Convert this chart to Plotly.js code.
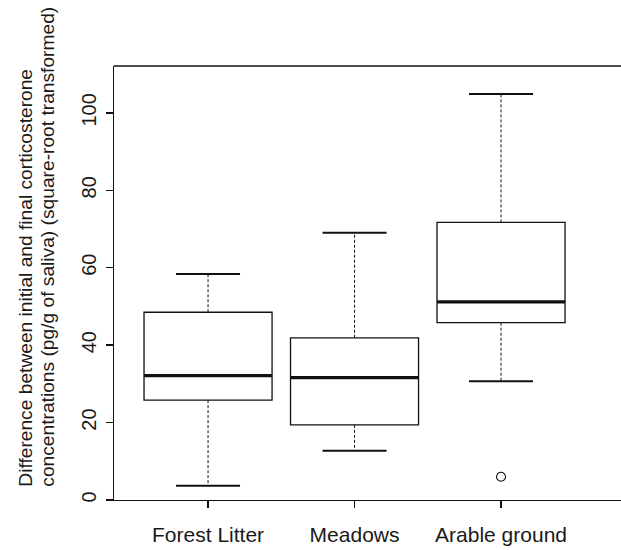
<!DOCTYPE html>
<html><head><meta charset="utf-8">
<script src="https://cdn.plot.ly/plotly-3.0.1.min.js"></script>
<style>html,body{margin:0;padding:0;overflow:hidden;background:#fff}</style>
</head><body><div id="chart" style="width:621px;height:550px"></div>
<script>
// ---- data ----
const categories = ["Forest Litter", "Meadows", "Arable ground"];
const lowerWhisker = [3.7, 12.7, 30.7];
const q1 = [25.8, 19.4, 45.8];
const median = [32.1, 31.6, 51.2];
const q3 = [48.5, 41.9, 71.7];
const upperWhisker = [58.4, 69.0, 104.9];
const outlierGroup = ["Arable ground"];
const outlierValue = [6.0];
const yTickValues = [0, 20, 40, 60, 80, 100];
const yTitleLines = [
  "Difference between initial and final corticosterone",
  "concentrations (pg/g of saliva) (square-root transformed)"
];

// ---- style constants ----
const FONT = "Liberation Sans, Arial, Helvetica, sans-serif";
const INK = "#111111";
const TEXT = "#1a1a1a";
const BOX_W = 0.874;
const CAP_W = 0.437;

const pos = categories.map((c, i) => i);

const boxTrace = {
  type: "box",
  x: pos,
  q1: q1, median: median, q3: q3,
  lowerfence: q1, upperfence: q3,
  width: BOX_W,
  whiskerwidth: 0,
  boxpoints: false,
  fillcolor: "#ffffff",
  line: {color: INK, width: 1.3},
  hoverinfo: "skip",
  showlegend: false
};

// dashed whiskers
const wx = [], wy = [];
pos.forEach((p, i) => {
  wx.push(p, p, null, p, p, null);
  wy.push(q3[i], upperWhisker[i], null, q1[i], lowerWhisker[i], null);
});
const whiskerTrace = {
  type: "scatter", mode: "lines", x: wx, y: wy,
  line: {color: INK, width: 1, dash: "3px,2px"},
  hoverinfo: "skip", showlegend: false
};

// whisker caps
const cx = [], cy = [];
pos.forEach((p, i) => {
  cx.push(p - CAP_W / 2, p + CAP_W / 2, null, p - CAP_W / 2, p + CAP_W / 2, null);
  cy.push(upperWhisker[i], upperWhisker[i], null, lowerWhisker[i], lowerWhisker[i], null);
});
const capTrace = {
  type: "scatter", mode: "lines", x: cx, y: cy,
  line: {color: INK, width: 2},
  hoverinfo: "skip", showlegend: false
};

// thick medians
const mx = [], my = [];
pos.forEach((p, i) => {
  mx.push(p - BOX_W / 2, p + BOX_W / 2, null);
  my.push(median[i], median[i], null);
});
const medianTrace = {
  type: "scatter", mode: "lines", x: mx, y: my,
  line: {color: INK, width: 3.2},
  hoverinfo: "skip", showlegend: false
};

const outlierTrace = {
  type: "scatter", mode: "markers",
  x: outlierGroup.map(g => categories.indexOf(g)),
  y: outlierValue,
  marker: {symbol: "circle-open", size: 9, color: INK, line: {width: 1.1}},
  hoverinfo: "skip", showlegend: false
};

// y-axis title as two rotated lines, both starting at the same bottom point (as in the reference)
const PLOT_L = 114, PLOT_W = 507;
const titleX = [26, 48];          // pixel centres of the two lines
const titleAnnotations = yTitleLines.map((t, i) => ({
  text: t, textangle: -90, showarrow: false,
  xref: "paper", yref: "paper",
  x: (titleX[i] - PLOT_L) / PLOT_W, y: 0.026,
  xanchor: "center", yanchor: "bottom",
  font: {family: FONT, size: 19.2, color: TEXT}
}));

const layout = {
  width: 621, height: 550,
  margin: {l: 114, r: 0, t: 66, b: 50},
  paper_bgcolor: "#ffffff", plot_bgcolor: "#ffffff",
  font: {family: FONT, size: 21, color: TEXT},
  showlegend: false,
  xaxis: {
    type: "linear",
    range: [-0.642, 2.819],
    tickmode: "array", tickvals: pos, ticktext: categories,
    ticks: "outside", ticklen: 7, tickwidth: 1.3, tickcolor: INK,
    ticklabelstandoff: 8,
    showline: true, linecolor: INK, linewidth: 1.3,
    showgrid: false, zeroline: false,
    tickfont: {family: FONT, size: 21, color: TEXT}
  },
  yaxis: {
    range: [0, 112.1],
    tickmode: "array", tickvals: yTickValues,
    ticks: "outside", ticklen: 7, tickwidth: 1.3, tickcolor: INK,
    tickangle: -90, ticklabelstandoff: 2,
    showline: true, linecolor: INK, linewidth: 1.3,
    showgrid: false, zeroline: false,
    tickfont: {family: FONT, size: 20, color: TEXT}
  },
  annotations: titleAnnotations,
  shapes: [{
    type: "line", xref: "paper", yref: "paper", x0: 0, x1: 1, y0: 1, y1: 1,
    line: {color: INK, width: 1.3}
  }]
};

Plotly.newPlot("chart", [boxTrace, whiskerTrace, capTrace, medianTrace, outlierTrace], layout,
  {displayModeBar: false, staticPlot: true});
</script>
</body></html>
